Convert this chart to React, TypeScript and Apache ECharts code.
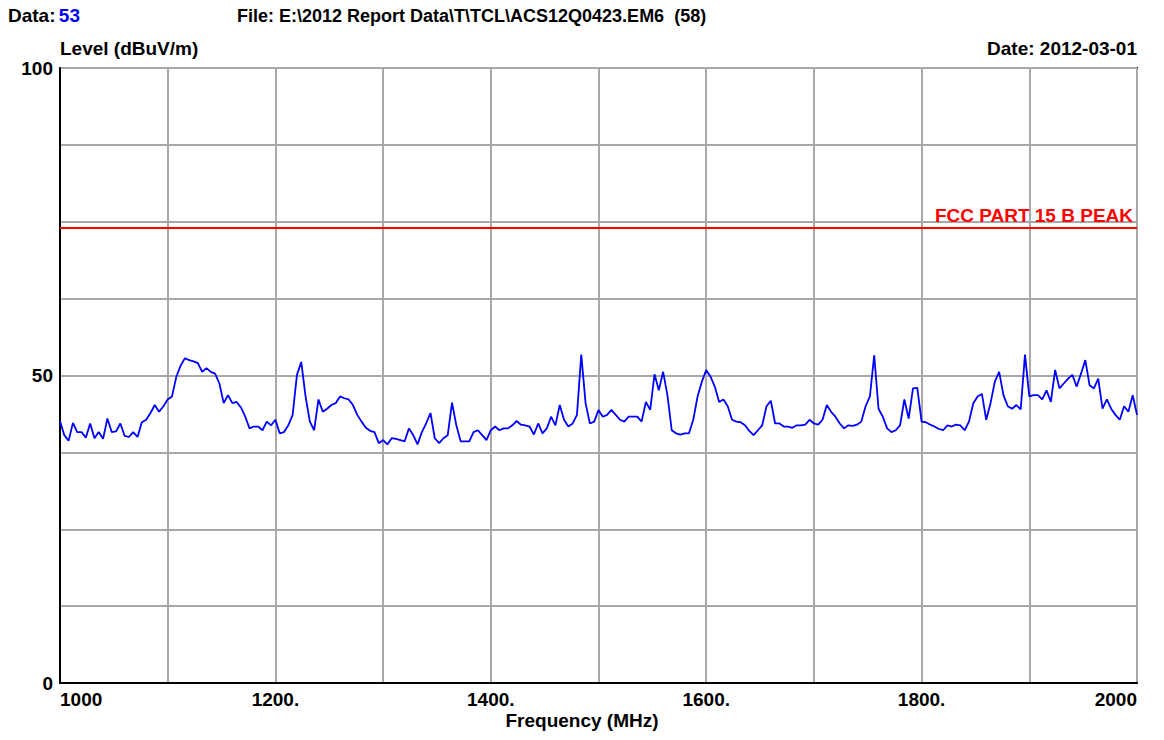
import React, { useEffect, useRef } from "react";
import * as echarts from "echarts";

// Spectrum trace: level in dBuV/m, one reading every 4 MHz from 1000 to 2000 MHz
const FREQ_START_MHZ = 1000;
const FREQ_STEP_MHZ = 4;
const levels: number[] = [
  42.6, 40.3, 39.4, 42.3, 40.8, 40.8, 39.9, 42.2, 39.8, 40.8,
  39.7, 43.0, 40.8, 40.9, 42.2, 40.2, 40.0, 40.8, 40.0, 42.4,
  42.8, 43.9, 45.2, 44.1, 45.0, 46.1, 46.6, 49.8, 51.6, 52.8,
  52.5, 52.3, 52.0, 50.6, 51.2, 50.6, 50.3, 48.7, 45.5, 46.8,
  45.5, 45.7, 44.8, 43.3, 41.4, 41.7, 41.7, 41.1, 42.5, 41.9,
  42.8, 40.6, 40.8, 41.9, 43.6, 50.1, 52.2, 46.6, 42.5, 41.1,
  46.1, 44.1, 44.6, 45.2, 45.5, 46.6, 46.3, 46.1, 45.2, 43.6,
  42.5, 41.5, 41.0, 40.8, 39.0, 39.5, 38.8, 39.8, 39.7, 39.5,
  39.3, 41.4, 40.3, 38.8, 40.8, 42.2, 43.9, 39.8, 39.0, 39.8,
  40.3, 45.6, 41.9, 39.3, 39.3, 39.3, 40.8, 41.1, 40.3, 39.5,
  41.1, 41.7, 41.1, 41.4, 41.4, 41.9, 42.6, 42.0, 41.9, 41.7,
  40.4, 42.2, 40.6, 41.4, 43.3, 41.9, 45.2, 42.8, 41.7, 42.2,
  43.6, 53.4, 45.5, 42.2, 42.5, 44.4, 43.3, 43.6, 44.4, 43.6,
  42.8, 42.5, 43.3, 43.3, 43.3, 42.5, 45.7, 44.4, 50.2, 47.6,
  50.6, 46.8, 41.1, 40.6, 40.4, 40.6, 40.6, 42.8, 46.6, 49.0,
  50.9, 49.8, 48.2, 45.7, 46.1, 45.0, 42.8, 42.5, 42.4, 41.9,
  41.0, 40.3, 41.1, 41.9, 45.0, 45.9, 42.2, 42.2, 41.7, 41.7,
  41.5, 41.9, 41.9, 42.0, 42.8, 42.2, 42.0, 42.8, 45.2, 44.1,
  43.3, 42.2, 41.4, 41.9, 41.8, 42.0, 42.5, 45.0, 46.6, 53.3,
  44.6, 43.3, 41.4, 40.8, 41.1, 41.9, 46.1, 43.0, 47.9, 48.0,
  42.5, 42.4, 42.0, 41.7, 41.3, 41.1, 41.9, 41.7, 42.0, 41.9,
  41.1, 42.5, 45.5, 46.6, 47.0, 42.8, 45.5, 49.0, 50.6, 46.8,
  45.0, 44.6, 45.2, 44.5, 53.4, 46.6, 46.8, 46.8, 46.1, 47.6,
  45.7, 50.9, 47.9, 48.7, 49.5, 50.1, 48.2, 50.3, 52.5, 48.4,
  47.9, 49.5, 44.6, 46.1, 44.6, 43.6, 42.8, 45.0, 44.1, 46.8,
  43.6,
];

const LIMIT_LEVEL = 74;
const LIMIT_NAME = "FCC PART 15 B PEAK";

const xLabeled = [1000, 1200, 1400, 1600, 1800, 2000];
const yLabeled = [0, 50, 100];

const HEADER_DATA = "Data:";
const HEADER_DATA_NO = "53";
const HEADER_FILE = "File: E:\\2012 Report Data\\T\\TCL\\ACS12Q0423.EM6  (58)";
const Y_NAME = "Level (dBuV/m)";
const DATE_TEXT = "Date: 2012-03-01";
const X_NAME = "Frequency (MHz)";

const FONT = "'Liberation Sans', Arial, Helvetica, sans-serif";

export default function App() {
  const ref = useRef<HTMLDivElement>(null);

  useEffect(() => {
    if (!ref.current) return;
    const chart = echarts.init(ref.current, undefined, { renderer: "svg" });
    const data = levels.map((v, i) => [FREQ_START_MHZ + i * FREQ_STEP_MHZ, v]);

    const txt = { fontFamily: FONT, fontWeight: "bold" as const, fontSize: 19, fill: "#000" };

    chart.setOption({
      animation: false,
      backgroundColor: "#ffffff",
      grid: {
        left: 60,
        right: 27,
        top: 68,
        bottom: 57,
        show: true,
        borderColor: "#000",
        borderWidth: 2,
        backgroundColor: "#fff",
      },
      xAxis: {
        type: "value",
        min: 1000,
        max: 2000,
        interval: 100,
        axisLine: { show: true, onZero: false, lineStyle: { color: "#000", width: 2 } },
        axisTick: { show: false },
        splitLine: { show: true, lineStyle: { color: "#a8a8a8", width: 2 } },
        axisLabel: {
          margin: 7,
          color: "#000",
          fontFamily: FONT,
          fontWeight: "bold",
          fontSize: 19,
          showMinLabel: true,
          showMaxLabel: true,
          alignMinLabel: "left",
          alignMaxLabel: "right",
          formatter: (v: number) => {
            if (!xLabeled.includes(v)) return "";
            return v === 1000 || v === 2000 ? String(v) : v + ".";
          },
        },
      },
      yAxis: {
        type: "value",
        min: 0,
        max: 100,
        interval: 12.5,
        axisLine: { show: true, lineStyle: { color: "#000", width: 2 } },
        axisTick: { show: false },
        splitLine: { show: true, lineStyle: { color: "#a8a8a8", width: 2 } },
        axisLabel: {
          margin: 7,
          color: "#000",
          fontFamily: FONT,
          fontWeight: "bold",
          fontSize: 19,
          formatter: (v: number) => (yLabeled.includes(v) ? String(v) : ""),
        },
      },
      series: [
        {
          type: "line",
          data,
          showSymbol: false,
          symbol: "none",
          lineStyle: { color: "#0000ff", width: 1.8 },
          z: 5,
          markLine: {
            silent: true,
            symbol: "none",
            data: [{ yAxis: LIMIT_LEVEL }],
            lineStyle: { color: "#ff0000", width: 2, type: "solid" },
            label: {
              show: true,
              position: "insideEndTop",
              distance: [4, 3],
              formatter: LIMIT_NAME,
              color: "#ff0000",
              fontFamily: FONT,
              fontWeight: "bold",
              fontSize: 19,
            },
          },
        },
      ],
      graphic: [
        {
          type: "text",
          left: 8,
          top: 6,
          style: {
            text: `{a|${HEADER_DATA}} {b|${HEADER_DATA_NO}}`,
            rich: {
              a: { ...txt, fill: "#000000" },
              b: { ...txt, fill: "#0000ff" },
            },
          },
        },
        {
          type: "text",
          left: 237,
          top: 7,
          style: { ...txt, fontSize: 18, text: HEADER_FILE },
        },
        {
          type: "text",
          left: 60,
          top: 39,
          style: { ...txt, text: Y_NAME },
        },
        {
          type: "text",
          right: 27,
          top: 39,
          style: { ...txt, text: DATE_TEXT },
        },
        {
          type: "text",
          left: "center",
          top: 711,
          style: { ...txt, text: X_NAME },
        },
      ],
    });

    return () => chart.dispose();
  }, []);

  return (
    <div
      ref={ref}
      style={{ position: "fixed", left: 0, top: 0, width: 1164, height: 740, background: "#fff" }}
    />
  );
}
